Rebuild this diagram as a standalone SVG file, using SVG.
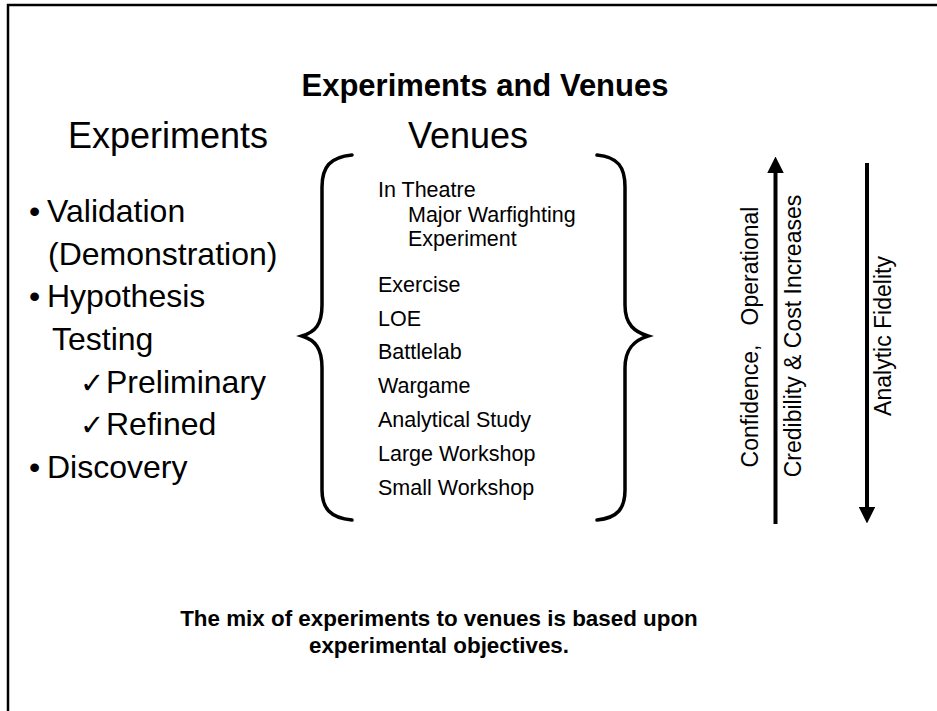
<svg xmlns="http://www.w3.org/2000/svg" width="937" height="711" viewBox="0 0 937 711">
<defs>
<style>
text{font-family:"Liberation Sans",Arial,"DejaVu Sans",sans-serif;fill:#000}
.title{font-size:31px;font-weight:bold;text-anchor:middle}
.head{font-size:36px}
.exp{font-size:32px}
.chk{font-size:29px}
.ven{font-size:21.5px}
.rot{font-size:23px;text-anchor:middle;white-space:pre}
.foot{font-size:22.4px;font-weight:bold;text-anchor:middle}
.brace{fill:none;stroke:#000;stroke-width:3.5;stroke-linecap:round}
.arrow{fill:none;stroke:#000;stroke-width:4}
</style>
<marker id="ah" viewBox="0 0 10 10" refX="2" refY="5" markerWidth="4.2" markerHeight="4.2" orient="auto" markerUnits="strokeWidth">
<path d="M0,0 L10,5 L0,10 z" fill="#000"/>
</marker>
</defs>
<rect x="0" y="0" width="937" height="711" fill="#fff"/>
<path d="M8,711 L8,5 L937,5" fill="none" stroke="#000" stroke-width="2.5"/>
<g id="title"><text class="title" x="485" y="96">Experiments and Venues</text></g>
<g id="experiments">
<text class="head" x="68" y="148">Experiments</text>
<text class="exp"><tspan x="29" y="222">•</tspan><tspan x="47" y="222">Validation</tspan></text>
<text class="exp" x="48" y="265">(Demonstration)</text>
<text class="exp"><tspan x="29" y="307">•</tspan><tspan x="47" y="307">Hypothesis</tspan></text>
<text class="exp" x="52" y="350">Testing</text>
<text class="chk" x="80" y="393">✓</text><text class="exp" x="106" y="393">Preliminary</text>
<text class="chk" x="80" y="435">✓</text><text class="exp" x="106" y="435">Refined</text>
<text class="exp"><tspan x="29" y="478">•</tspan><tspan x="47" y="478">Discovery</tspan></text>
</g>
<g id="venues">
<text class="head" x="408" y="148">Venues</text>
<path class="brace" d="M352,155 C330,157 322,167 322,187 L322,305 C322,325 315,332 302,336 C315,340 322,348 322,368 L322,490 C322,508 330,518 352,520"/>
<path class="brace" d="M597,155 C618,157 625,167 625,187 L625,305 C625,325 635,332 648,336 C635,340 625,348 625,368 L625,490 C625,508 618,518 597,520"/>
<text class="ven" x="378" y="197">In Theatre</text>
<text class="ven" x="408" y="222">Major Warfighting</text>
<text class="ven" x="408" y="246">Experiment</text>
<text class="ven" x="378" y="292">Exercise</text>
<text class="ven" x="378" y="326">LOE</text>
<text class="ven" x="378" y="359">Battlelab</text>
<text class="ven" x="378" y="393">Wargame</text>
<text class="ven" x="378" y="427">Analytical Study</text>
<text class="ven" x="378" y="461">Large Workshop</text>
<text class="ven" x="378" y="495">Small Workshop</text>
</g>
<g id="connectors">
<line class="arrow" x1="775.5" y1="524" x2="775.5" y2="170" marker-end="url(#ah)"/>
<line class="arrow" x1="867" y1="163" x2="867" y2="510" marker-end="url(#ah)"/>
</g>
<g id="confidence"><text class="rot" transform="translate(758,337) rotate(-90)">Confidence,   Operational</text></g>
<g id="credibility"><text class="rot" transform="translate(801,336) rotate(-90)">Credibility &amp; Cost Increases</text></g>
<g id="fidelity"><text class="rot" transform="translate(891,336) rotate(-90)">Analytic Fidelity</text></g>
<g id="footer">
<text class="foot" x="439" y="626">The mix of experiments to venues is based upon</text>
<text class="foot" x="439" y="653">experimental objectives.</text>
</g>
</svg>
